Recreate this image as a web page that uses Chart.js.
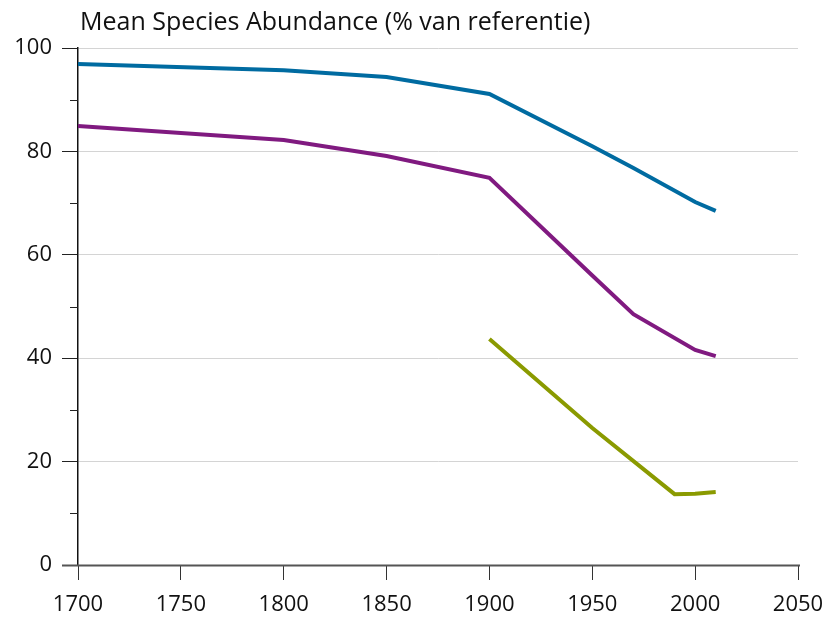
<!DOCTYPE html>
<html>
<head>
<meta charset="utf-8">
<script src="https://cdn.jsdelivr.net/npm/chart.js@4"></script>
<style>
  body { margin: 0; background: #fff; }
  #wrap { width: 830px; height: 621px; position: relative; }
</style>
</head>
<body>
<div id="wrap"><canvas id="msa"></canvas></div>
<script>
var titleText = "Mean Species Abundance (% van referentie)";
var years = [1700, 1800, 1850, 1900, 1950, 1970, 2000, 2010];
var blueValues = [96.9, 95.7, 94.4, 91.1, 81.0, 76.8, 70.2, 68.5];
var purpleValues = [84.9, 82.2, 79.1, 74.9, 56.0, 48.5, 41.6, 40.4];
var greenYears = [1900, 1950, 1990, 2000, 2010];
var greenValues = [43.7, 26.5, 13.7, 13.8, 14.1];
var xTicks = [1700, 1750, 1800, 1850, 1900, 1950, 2000, 2050];
var yTicks = [0, 20, 40, 60, 80, 100];
var yMinorTicks = [10, 30, 50, 70, 90];

var FONT = "'Open Sans', sans-serif";

function toPoints(xs, ys) {
    return xs.map(function (x, i) { return { x: x, y: ys[i] }; });
}

function lineSet(label, xs, ys, color) {
    return {
        label: label,
        data: toPoints(xs, ys),
        borderColor: color,
        backgroundColor: color,
        borderWidth: 4,
        pointRadius: 0,
        tension: 0,
        fill: false
    };
}

// title, minor ticks and the zero line
var extras = {
    id: 'extras',
    afterDraw: function (chart) {
        var c = chart.ctx;
        var y = chart.scales.y;
        var area = chart.chartArea;
        c.save();
        c.strokeStyle = '#222';
        c.lineWidth = 1;
        yMinorTicks.forEach(function (v) {
            var py = Math.round(y.getPixelForValue(v)) + 0.5;
            c.beginPath();
            c.moveTo(area.left - 8, py);
            c.lineTo(area.left, py);
            c.stroke();
        });
        var p0 = Math.round(y.getPixelForValue(0)) + 0.5;
        c.strokeStyle = '#555';
        c.lineWidth = 2;
        c.beginPath();
        c.moveTo(area.left - 16, p0);
        c.lineTo(area.right + 2, p0);
        c.stroke();
        c.fillStyle = '#111';
        c.font = "25px " + FONT;
        c.textBaseline = 'alphabetic';
        c.textAlign = 'left';
        c.fillText(titleText, 80, 30);
        c.restore();
    }
};

new Chart(document.getElementById('msa').getContext('2d'), {
    type: 'line',
    data: {
        datasets: [
            lineSet('blauw', years, blueValues, '#006ba1'),
            lineSet('paars', years, purpleValues, '#801a80'),
            lineSet('groen', greenYears, greenValues, '#8a9a00')
        ]
    },
    options: {
        responsive: true,
        maintainAspectRatio: false,
        animation: false,
        layout: { padding: { top: 48, right: 32, left: 0, bottom: 0 } },
        plugins: {
            legend: { display: false },
            tooltip: { enabled: false }
        },
        scales: {
            x: {
                type: 'linear',
                min: 1700,
                max: 2050,
                afterBuildTicks: function (s) { s.ticks = xTicks.map(function (v) { return { value: v }; }); },
                afterFit: function (s) { s.height = 56; s.paddingLeft = 0; s.paddingRight = 0; },
                grid: { drawOnChartArea: false, tickLength: 15, tickColor: '#333', lineWidth: 1 },
                border: { display: false },
                ticks: {
                    color: '#111',
                    padding: 12,
                    maxRotation: 0,
                    font: { family: FONT, size: 22 },
                    callback: function (v) { return String(v); }
                }
            },
            y: {
                min: 0,
                max: 100,
                afterBuildTicks: function (s) { s.ticks = yTicks.map(function (v) { return { value: v }; }); },
                afterFit: function (s) { s.width = 78; s.paddingTop = 0; s.paddingBottom = 0; },
                grid: {
                    color: function (ctx) { return ctx.tick && ctx.tick.value === 0 ? 'rgba(0,0,0,0)' : '#d4d4d4'; },
                    tickColor: '#222',
                    tickLength: 16,
                    lineWidth: 1
                },
                border: { display: true, color: '#111', width: 1.5 },
                ticks: {
                    color: '#111',
                    padding: 10,
                    font: { family: FONT, size: 22 }
                }
            }
        }
    },
    plugins: [extras]
});
</script>
</body>
</html>
